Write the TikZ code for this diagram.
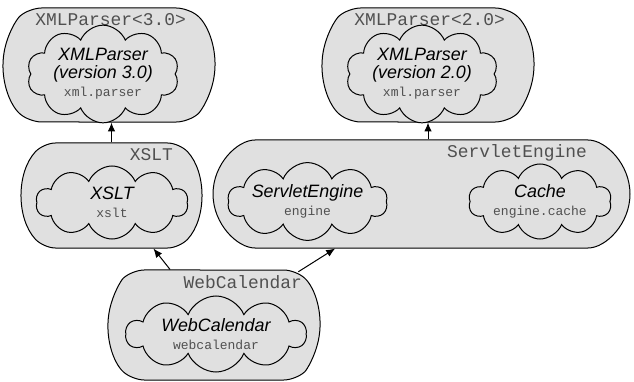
\documentclass[tikz,border=0pt]{standalone}
\usepackage{fontspec}
\setmainfont{Liberation Sans}
\setmonofont{Liberation Mono}
\usetikzlibrary{shapes.misc,shapes.symbols,arrows.meta}
\definecolor{boxfill}{RGB}{224,224,224}
\definecolor{namegray}{RGB}{80,80,80}
\tikzset{
  bundle/.style={rounded rectangle, rounded rectangle arc length=100, rounded corners=12pt, draw, fill=boxfill, line width=1pt, inner sep=0pt},
  comp/.style={cloud, cloud puffs=10, cloud puff arc=135, cloud ignores aspect, draw, fill=boxfill, line width=1pt, align=center, inner sep=0pt, font=\fontsize{17.9}{18}\selectfont\itshape},
  bundlename/.style={anchor=base east, inner sep=0pt, text=namegray, font=\fontsize{17.9}{18}\selectfont\ttfamily},
  uses/.style={-{Latex[length=9pt,width=7.5pt]}, line width=1pt},
}
\newcommand{\sublabel}[1]{{\fontsize{13}{18}\selectfont\ttfamily\upshape\color{namegray}#1}}

\begin{document}
\begin{tikzpicture}[x=1pt,y=-1pt]
  \useasboundingbox (0,0) rectangle (634,382);

  % bundles
  \node[bundle, minimum width=212pt, minimum height=114pt] (xmlthree) at (109,65) {};
  \node[bundle, minimum width=212pt, minimum height=114pt] (xmltwo) at (428,65) {};
  \node[bundle, rounded rectangle arc length=85, minimum width=177pt, minimum height=105pt] (xslt) at (111.5,195.5) {};
  \node[bundle, rounded rectangle arc length=180, minimum width=417pt, minimum height=108pt] (engine) at (421.5,194) {};
  \node[bundle, rounded rectangle arc length=95, minimum width=212pt, minimum height=110pt] (webcal) at (214,325) {};

  % bundle names
  \node[bundlename] (xmlthreename) at (186,26) {XMLParser<3.0>};
  \node[bundlename] (xmltwoname) at (505,26) {XMLParser<2.0>};
  \node[bundlename] (xsltname) at (173,161) {XSLT};
  \node[bundlename] (enginename) at (587,158) {ServletEngine};
  \node[bundlename] (webcalname) at (302,288) {WebCalendar};

  % components
  \node[comp, minimum width=152pt, minimum height=80pt] (xmlparserthree) at (103,74) {XMLParser\\(version 3.0)\\\sublabel{xml.parser}};
  \node[comp, minimum width=152pt, minimum height=80pt] (xmlparsertwo) at (422,74) {XMLParser\\(version 2.0)\\\sublabel{xml.parser}};
  \node[comp, minimum width=152pt, minimum height=73pt] (xsltcomp) at (112,202.5) {XSLT\\\sublabel{xslt}};
  \node[comp, minimum width=148pt, minimum height=75pt] (enginecomp) at (307.5,201.5) {ServletEngine\\\sublabel{engine}};
  \node[comp, minimum width=143pt, minimum height=75pt] (cachecomp) at (540,201.5) {Cache\\\sublabel{engine.cache}};
  \node[comp, minimum width=180pt, minimum height=76pt] (webcalcomp) at (216,334) {WebCalendar\\\sublabel{webcalendar}};

  % dependencies
  \draw[uses] (xslt.north) -- (xslt.north |- xmlthree.south);
  \draw[uses] (xmltwo.south |- engine.north) -- (xmltwo.south);
  \draw[uses] (webcal) -- (xslt);
  \draw[uses] (webcal) -- (engine);
\end{tikzpicture}
\end{document}
